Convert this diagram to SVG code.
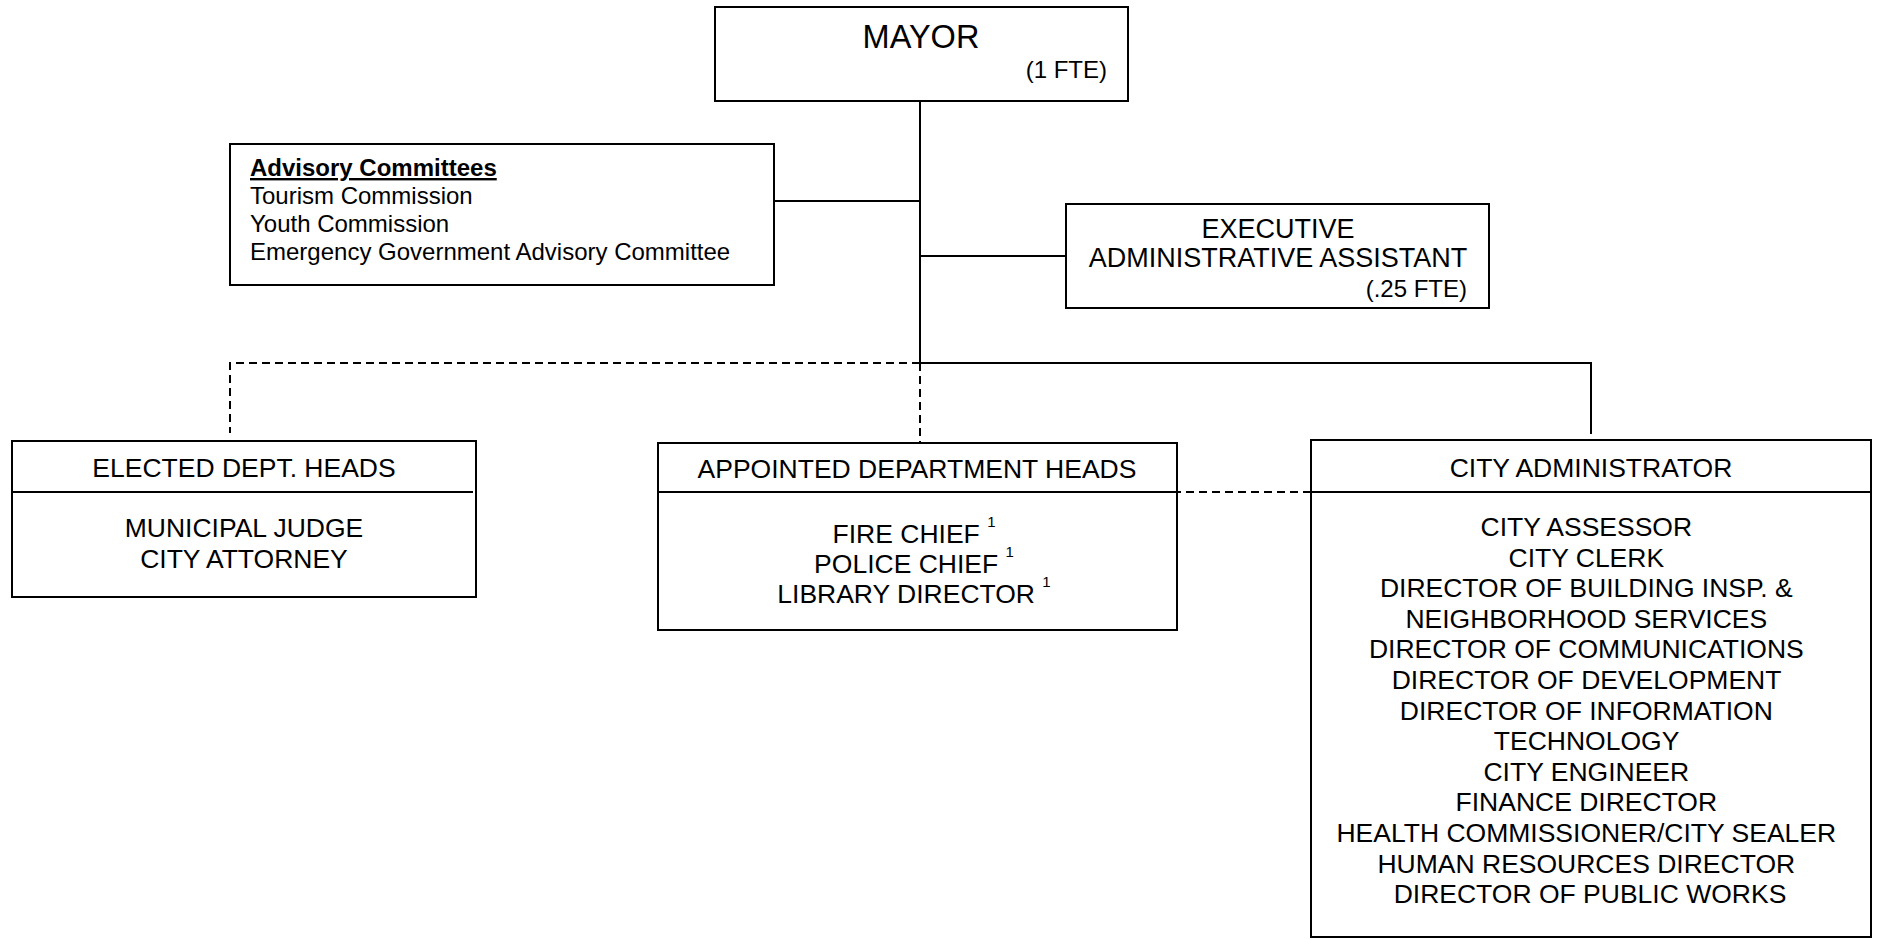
<svg xmlns="http://www.w3.org/2000/svg" width="1879" height="939" viewBox="0 0 1879 939">
<style>
.box{fill:#fff;stroke:#000;stroke-width:2}
.ln{fill:none;stroke:#000;stroke-width:2}
.dash{fill:none;stroke:#000;stroke-width:2;stroke-dasharray:8 5}
text{font-family:"Liberation Sans",Arial,sans-serif;fill:#000}
.t26{font-size:26.5px}
.t24{font-size:24px}
.c{text-anchor:middle}
.sup{font-size:15px}
</style>
<rect width="1879" height="939" fill="#fff"/>
<g id="connectors">
<line class="ln" x1="920" y1="101" x2="920" y2="363"/>
<line class="ln" x1="774" y1="201" x2="920" y2="201"/>
<line class="ln" x1="920" y1="256" x2="1066" y2="256"/>
<polyline class="ln" points="920,363 1591,363 1591,434"/>
<polyline class="dash" points="920,363 230,363 230,433"/>
<line class="dash" x1="920" y1="363" x2="920" y2="443"/>
</g>
<g id="mayor">
<rect class="box" x="715" y="7" width="413" height="94"/>
<text x="921" y="48" class="c" font-size="32.5">MAYOR</text>
<text x="1107" y="78" class="t24" text-anchor="end">(1 FTE)</text>
</g>
<g id="advisory">
<rect class="box" x="230" y="144" width="544" height="141"/>
<text x="250" y="176" class="t24" font-weight="bold" text-decoration="underline">Advisory Committees</text>
<text x="250" y="204" class="t24">Tourism Commission</text>
<text x="250" y="232" class="t24">Youth Commission</text>
<text x="250" y="260" class="t24">Emergency Government Advisory Committee</text>
</g>
<g id="exec">
<rect class="box" x="1066" y="204" width="423" height="104"/>
<text x="1278" y="238" class="c" font-size="27">EXECUTIVE</text>
<text x="1278" y="267" class="c" font-size="27">ADMINISTRATIVE ASSISTANT</text>
<text x="1467" y="297" class="t24" text-anchor="end">(.25 FTE)</text>
</g>
<g id="elected">
<rect class="box" x="12" y="441" width="464" height="156"/>
<line class="ln" x1="12" y1="492" x2="473" y2="492"/>
<text x="244" y="477" class="t26 c">ELECTED DEPT. HEADS</text>
<text x="244" y="537" class="t26 c">MUNICIPAL JUDGE</text>
<text x="244" y="568" class="t26 c">CITY ATTORNEY</text>
</g>
<g id="appointed">
<rect class="box" x="658" y="443" width="519" height="187"/>
<line class="ln" x1="658" y1="492" x2="1177" y2="492"/>
<text x="917" y="478" class="t26 c">APPOINTED DEPARTMENT HEADS</text>
<text x="914" y="543" class="t26 c">FIRE CHIEF <tspan class="sup" dy="-16">1</tspan></text>
<text x="914" y="573" class="t26 c">POLICE CHIEF <tspan class="sup" dy="-16">1</tspan></text>
<text x="914" y="603" class="t26 c">LIBRARY DIRECTOR <tspan class="sup" dy="-16">1</tspan></text>
</g>
<g id="cityadmin">
<rect class="box" x="1311" y="440" width="560" height="497"/>
<line class="ln" x1="1311" y1="492" x2="1871" y2="492"/>
<text x="1591" y="477" class="t26 c">CITY ADMINISTRATOR</text>
<text class="t26 c">
<tspan x="1590" y="536">CITY ASSESSOR</tspan>
<tspan x="1590" y="566.6">CITY CLERK</tspan>
<tspan x="1590" y="597.2">DIRECTOR OF BUILDING INSP. &amp;</tspan>
<tspan x="1590" y="627.8">NEIGHBORHOOD SERVICES</tspan>
<tspan x="1590" y="658.4">DIRECTOR OF COMMUNICATIONS</tspan>
<tspan x="1590" y="689">DIRECTOR OF DEVELOPMENT</tspan>
<tspan x="1590" y="719.6">DIRECTOR OF INFORMATION</tspan>
<tspan x="1590" y="750.2">TECHNOLOGY</tspan>
<tspan x="1590" y="780.8">CITY ENGINEER</tspan>
<tspan x="1590" y="811.4">FINANCE DIRECTOR</tspan>
<tspan x="1590" y="842">HEALTH COMMISSIONER/CITY SEALER</tspan>
<tspan x="1590" y="872.6">HUMAN RESOURCES DIRECTOR</tspan>
<tspan x="1590" y="903.2">DIRECTOR OF PUBLIC WORKS</tspan>
</text>
</g>
<g id="connectors-over">
<line class="dash" x1="1160" y1="492" x2="1344" y2="492"/>
</g>
</svg>
